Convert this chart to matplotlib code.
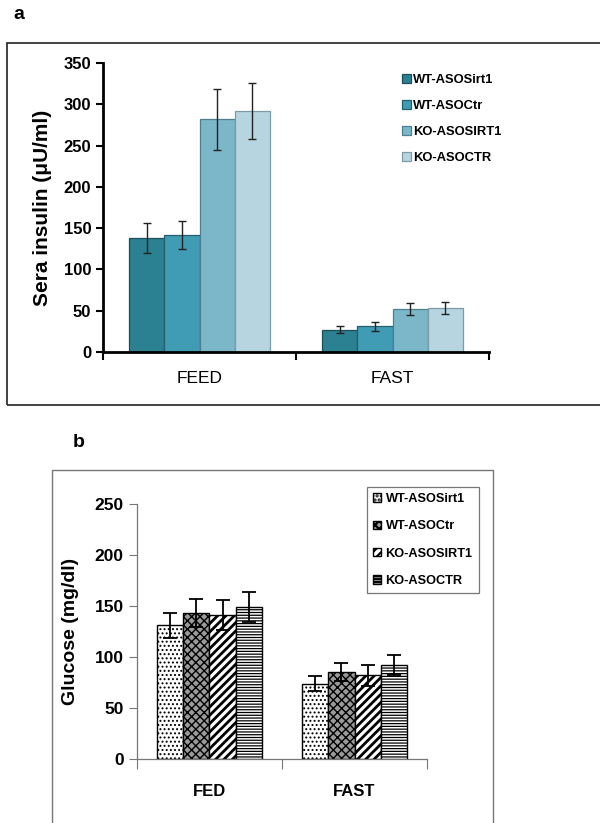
import numpy as np
import matplotlib
matplotlib.use("Agg")
import matplotlib.pyplot as plt
from matplotlib.patches import Rectangle

plt.rcParams['font.family'] = ['Liberation Sans', 'DejaVu Sans']
plt.rcParams['hatch.linewidth'] = 1.6

# -----------------
# DATA
# -----------------
groups = ['WT-ASOSirt1', 'WT-ASOCtr', 'KO-ASOSIRT1', 'KO-ASOCTR']

insulin_cats = ['FEED', 'FAST']
insulin_mean = {
    'WT-ASOSirt1': [138, 27],
    'WT-ASOCtr':   [142, 31],
    'KO-ASOSIRT1': [282, 52],
    'KO-ASOCTR':   [292, 53],
}
insulin_err = {
    'WT-ASOSirt1': [18, 4],
    'WT-ASOCtr':   [17, 5],
    'KO-ASOSIRT1': [37, 7],
    'KO-ASOCTR':   [34, 7],
}

glucose_cats = ['FED', 'FAST']
glucose_mean = {
    'WT-ASOSirt1': [131, 74],
    'WT-ASOCtr':   [143, 85],
    'KO-ASOSIRT1': [141, 82],
    'KO-ASOCTR':   [149, 92],
}
glucose_err = {
    'WT-ASOSirt1': [12, 7],
    'WT-ASOCtr':   [14, 9],
    'KO-ASOSIRT1': [15, 10],
    'KO-ASOCTR':   [15, 10],
}

teal = ['#2b8191', '#3f9cb4', '#7bb7c9', '#b6d5e0']
teal_edge = ['#1c4f59', '#245f6d', '#4f7f8d', '#7c9ba6']
hatches = ['....', 'xxxx', '////', '------']
hatch_lw = [0.9, 1.0, 2.0, 0.9]
gray_face = ['white', '#9a9a9a', 'white', 'white']

fig = plt.figure(figsize=(6, 8.23), dpi=100)

# panel frames
fig.patches.append(Rectangle((0.0117, 0.5079), 1.0, 0.4399, transform=fig.transFigure,
                             fill=False, edgecolor='#333333', linewidth=1.3))
fig.patches.append(Rectangle((0.0867, -0.02), 0.735, 0.4489, transform=fig.transFigure,
                             fill=False, edgecolor='#777777', linewidth=1.0))

fig.text(0.022, 0.982, 'a', fontsize=14, fontweight='bold', va='center')
fig.text(0.122, 0.462, 'b', fontsize=14, fontweight='bold', va='center')

x = np.arange(2)
w = 0.182

# -----------------
# PANEL A - INSULIN
# -----------------
ax1 = fig.add_axes([0.1717, 0.5723, 0.6433, 0.3512])
for i, g in enumerate(groups):
    ax1.bar(x + (i - 1.5) * w, insulin_mean[g], w, color=teal[i], edgecolor=teal_edge[i],
            linewidth=0.9, label=g, zorder=2)
    ax1.errorbar(x + (i - 1.5) * w, insulin_mean[g], yerr=insulin_err[g], fmt='none',
                 ecolor='#222222', elinewidth=1.0, capsize=3, capthick=1.0, zorder=3)
ax1.set_xlim(-0.5, 1.5)
ax1.set_ylim(0, 350)
ax1.set_yticks(range(0, 351, 50))
ax1.set_xticks(x)
ax1.set_xticklabels(insulin_cats, fontsize=12.5)
ax1.set_xticks([-0.5, 0.5, 1.5], minor=True)
ax1.tick_params(axis='x', which='major', length=0, pad=14)
ax1.tick_params(axis='x', which='minor', length=6, width=1.5, direction='out')
ax1.tick_params(axis='y', length=5, width=1.5, labelsize=12)
for lab in ax1.get_yticklabels():
    lab.set_fontweight('bold')
ax1.set_ylabel('Sera insulin (μU/ml)', fontsize=15, fontweight='bold', labelpad=8)
for s in ['top', 'right']:
    ax1.spines[s].set_visible(False)
for s in ['left', 'bottom']:
    ax1.spines[s].set_linewidth(2)
ax1.legend(loc='upper left', bbox_to_anchor=(0.76, 0.98), frameon=False,
           prop={'size': 9.4, 'weight': 'bold'}, handlelength=0.7, handleheight=0.7,
           handletextpad=0.15, labelspacing=1.05, borderaxespad=0)

# -----------------
# PANEL B - GLUCOSE
# -----------------
ax2 = fig.add_axes([0.2283, 0.0778, 0.4834, 0.3098])
for i, g in enumerate(groups):
    bars = ax2.bar(x + (i - 1.5) * w, glucose_mean[g], w, color=gray_face[i], edgecolor='black',
                   hatch=hatches[i], linewidth=1.0, label=g, zorder=2)
    for b in bars:
        if hasattr(b, 'set_hatch_linewidth'):
            b.set_hatch_linewidth(hatch_lw[i])
    ax2.errorbar(x + (i - 1.5) * w, glucose_mean[g], yerr=glucose_err[g], fmt='none',
                 ecolor='black', elinewidth=1.3, capsize=5, capthick=1.3, zorder=3)
ax2.set_xlim(-0.5, 1.5)
ax2.set_ylim(0, 250)
ax2.set_yticks(range(0, 251, 50))
ax2.set_xticks(x)
ax2.set_xticklabels(glucose_cats, fontsize=12, fontweight='bold')
ax2.set_xticks([-0.5, 0.5, 1.5], minor=True)
ax2.tick_params(axis='x', which='major', length=0, pad=18)
ax2.tick_params(axis='x', which='minor', length=7, width=0.8, color='#777777')
ax2.tick_params(axis='y', length=6, width=0.8, color='#777777', labelsize=12.5)
for lab in ax2.get_yticklabels():
    lab.set_fontweight('bold')
ax2.set_ylabel('Glucose (mg/dl)', fontsize=14, fontweight='bold', labelpad=11)
for s in ['top', 'right']:
    ax2.spines[s].set_visible(False)
for s in ['left', 'bottom']:
    ax2.spines[s].set_linewidth(0.9)
    ax2.spines[s].set_color('#777777')
leg = ax2.legend(loc='upper left', bbox_to_anchor=(0.793, 1.068), frameon=True, fancybox=False,
                 prop={'size': 9.2, 'weight': 'bold'}, handlelength=0.6, handleheight=0.6,
                 handletextpad=0.35, labelspacing=1.2, borderaxespad=0, borderpad=0.5)
leg.get_frame().set_edgecolor('#555555')
leg.get_frame().set_linewidth(0.9)

fig.savefig('out.png', dpi=100)
